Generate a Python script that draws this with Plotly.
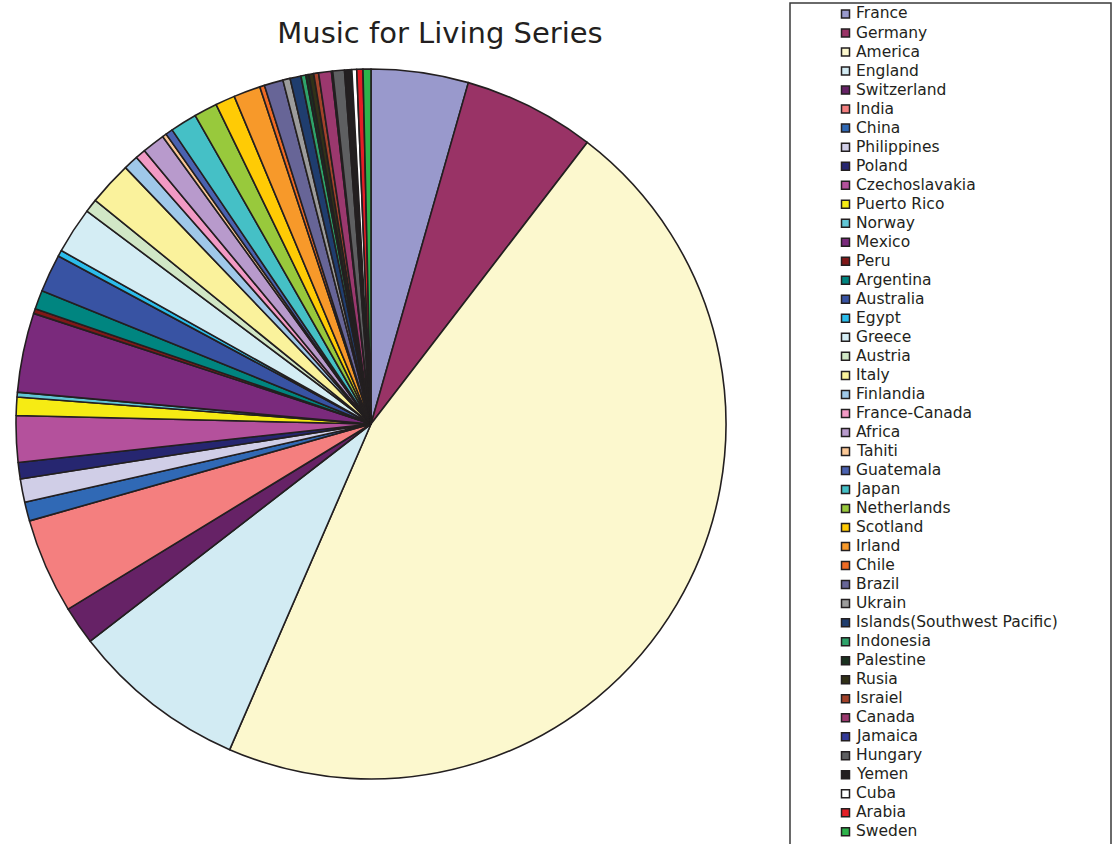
import plotly.graph_objects as go

# Share of recordings by country (percent of the series)
countries = [
    "France", "Germany", "America", "England", "Switzerland", "India", "China",
    "Philippines", "Poland", "Czechoslavakia", "Puerto Rico", "Norway", "Mexico",
    "Peru", "Argentina", "Australia", "Egypt", "Greece", "Austria", "Italy",
    "Finlandia", "France-Canada", "Africa", "Tahiti", "Guatemala", "Japan",
    "Netherlands", "Scotland", "Irland", "Chile", "Brazil", "Ukrain",
    "Islands(Southwest Pacific)", "Indonesia", "Palestine", "Rusia", "Israiel",
    "Canada", "Jamaica", "Hungary", "Yemen", "Cuba", "Arabia", "Sweden",
]
shares = [
    4.42, 6.00, 46.08, 8.00, 1.75, 4.33, 0.86,
    1.06, 0.75, 2.11, 0.83, 0.22, 3.61,
    0.22, 0.86, 1.72, 0.28, 2.11, 0.61, 2.00,
    0.67, 0.47, 1.03, 0.19, 0.33, 1.22,
    1.06, 0.89, 1.22, 0.22, 0.86, 0.33,
    0.50, 0.22, 0.14, 0.22, 0.22,
    0.58, 0.06, 0.53, 0.33, 0.22, 0.28, 0.36,
]
colors = [
    "#9999CC", "#993366", "#FCF8CE", "#D2EBF3", "#662266", "#F47F7F", "#3069B5",
    "#D0CEE7", "#262670", "#B4519C", "#F6EB14", "#62C6D6", "#7A2A7C",
    "#801818", "#008580", "#3853A3", "#2CBDEB", "#D4EDF4", "#D1E7C6", "#FAF29C",
    "#9FC8E9", "#F29AC5", "#B89ACC", "#FBC896", "#4A62B0", "#45C0C6",
    "#98C93C", "#FFCB05", "#F7992A", "#EE6A24", "#676597", "#9C9C9C",
    "#1F3D6E", "#2EA36A", "#1A3220", "#313118", "#A3422A",
    "#9B386E", "#333A99", "#5E5F61", "#231F20", "#FFFFFF", "#E31E26", "#2DB34A",
]

W, H = 1114, 844
ink = "#231F20"
FONT = "DejaVu Sans, Verdana, sans-serif"


def px(x):
    return x / W


def py(y):
    return 1 - y / H


fig = go.Figure(
    go.Pie(
        labels=countries,
        values=shares,
        sort=False,
        direction="clockwise",
        rotation=0,
        textinfo="none",
        hoverinfo="label+percent",
        showlegend=False,
        marker=dict(colors=colors, line=dict(color=ink, width=1.6)),
        domain=dict(x=[px(15), px(727)], y=[py(779), py(69)]),
    )
)

# Key panel: framed box with a swatch and a label per country
shapes = [
    dict(
        type="rect", xref="paper", yref="paper",
        x0=px(790), x1=px(1111), y0=py(860), y1=py(3),
        line=dict(color="#3a3a3a", width=1.5),
        fillcolor="rgba(0,0,0,0)",
    )
]
annotations = []
row_top, row_step = 13.5, 19.02
for i, (name, col) in enumerate(zip(countries, colors)):
    yc = row_top + i * row_step
    shapes.append(
        dict(
            type="rect", xref="paper", yref="paper",
            x0=px(841.5), x1=px(849.5), y0=py(yc + 4.5), y1=py(yc - 3.5),
            line=dict(color=ink, width=1.5),
            fillcolor=col,
        )
    )
    annotations.append(
        dict(
            text=name, xref="paper", yref="paper",
            x=px(854), y=py(yc), xanchor="left", yanchor="middle",
            showarrow=False,
            font=dict(family=FONT, size=15.5, color=ink),
        )
    )

fig.update_layout(
    width=W,
    height=H,
    margin=dict(l=0, r=0, t=0, b=0),
    paper_bgcolor="white",
    plot_bgcolor="white",
    font=dict(family=FONT, color=ink),
    title=dict(
        text="Music for Living Series",
        x=px(440),
        xanchor="center",
        y=py(33),
        yanchor="middle",
        font=dict(family=FONT, size=29, color=ink),
    ),
    shapes=shapes,
    annotations=annotations,
)

fig.write_html("out.html")
